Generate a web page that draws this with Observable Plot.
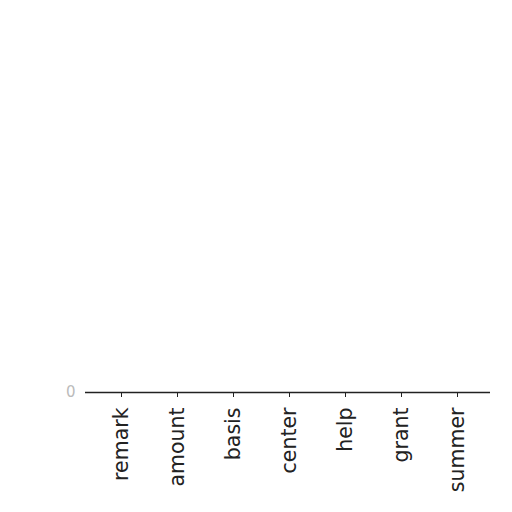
<!DOCTYPE html>
<html>
<head>
<meta charset="utf-8">
<script src="https://cdn.jsdelivr.net/npm/d3@7"></script>
<script src="https://cdn.jsdelivr.net/npm/@observablehq/plot@0.6"></script>
<style>
  html, body { margin: 0; padding: 0; background: #fff; }
  #chart svg { display: block; }
</style>
</head>
<body>
<div id="chart"></div>
<script>
const categories = ["remark", "amount", "basis", "center", "help", "grant", "summer"];
const values = [0, 0, 0, 0, 0, 0, 0];
const yTicks = [0];

const data = categories.map((c, i) => ({category: c, value: values[i]}));

const chart = Plot.plot({
  width: 512,
  height: 512,
  marginTop: 20,
  marginLeft: 91,
  marginRight: 25,
  marginBottom: 120,
  style: {fontFamily: "DejaVu Sans", fontSize: "20px", color: "#222", background: "#fff"},
  x: {domain: categories, padding: 0, label: null},
  y: {domain: [0, 1], label: null},
  marks: [
    Plot.barY(data, {x: "category", y: "value", fill: "#1f77b4", inset: 5}),
    Plot.axisX({tickRotate: -90, tickSize: 5, tickPadding: 10, fontSize: 20.5, stroke: "#222", fill: "#222"}),
    Plot.axisY({ticks: yTicks, tickFormat: d3.format("d"), tickSize: 0, tickPadding: 16, fontSize: 15, fill: "#bbb"}),
    Plot.ruleY([0], {stroke: "#222", strokeWidth: 1.5, insetLeft: -6, insetRight: -3})
  ]
});
document.getElementById("chart").appendChild(chart);
</script>
</body>
</html>
